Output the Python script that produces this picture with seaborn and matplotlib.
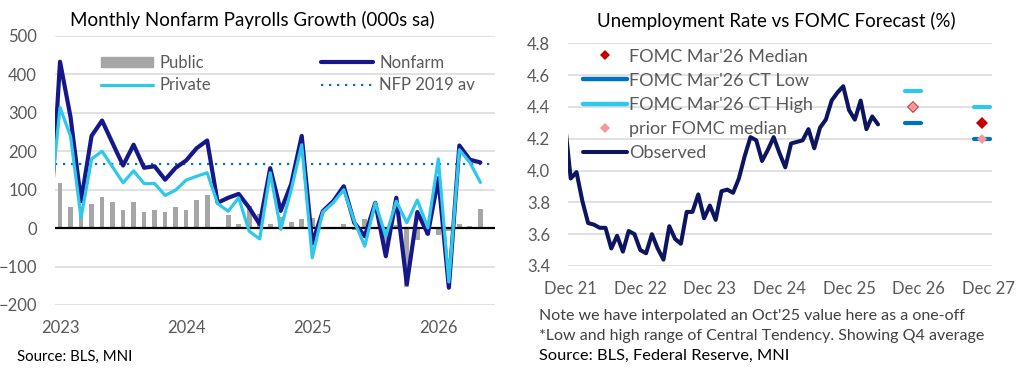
import numpy as np
import pandas as pd
import matplotlib
matplotlib.use('Agg')
import matplotlib.pyplot as plt
from matplotlib.lines import Line2D
from matplotlib.patches import Patch
from matplotlib.markers import MarkerStyle
import seaborn as sns

# --- LEFT: monthly payrolls change (000s), Dec 2022 .. May 2026 ---
# month index: Jan 2023 = 0 (Dec 2022 sits just off the left edge)
pay_month = list(range(-1, 41))
nonfarm = [-15,
           433, 289, 70, 240, 280, 221, 163, 217, 157, 161, 126, 157,
           176, 208, 228, 66, 79, 89, 53, 10, 156, 45, 115, 240,
           -40, 44, 70, 109, 14, -21, 66, -73, 79, -146, 42, -15,
           130, -155, 215, 178, 171]
private = [45,
           314, 239, 27, 180, 200, 159, 118, 149, 116, 116, 85, 99,
           125, 135, 144, 64, 44, 79, -8, -28, 144, -3, 100, 217,
           -77, 42, 66, 100, 18, -47, 66, -21, 70, 14, 73, 1,
           180, -140, 204, 171, 119]
public = [np.nan,
          118, 54, 40, 62, 80, 69, 46, 69, 42, 46, 43, 55,
          48, 72, 85, 0, 33, 10, 58, 38, 12, 30, 16, 25,
          27, 2, 4, 10, -4, 25, 0, -50, 8, -152, -30, -18,
          -19, -8, 12, 5, 51]
nfp_2019_avg = 167
pay_ticks = [0, 12, 24, 36]
pay_ticklabels = ['2023', '2024', '2025', '2026']

# --- RIGHT: unemployment rate (%), Nov 2021 .. May 2026 ---
# month index: Dec 2021 = 0
ur_month = list(range(-1, 54))
unemployment = [4.30, 3.95,
                3.99, 3.81, 3.67, 3.66, 3.64, 3.64, 3.51, 3.59, 3.49, 3.62, 3.60, 3.50,
                3.48, 3.60, 3.51, 3.44, 3.65, 3.57, 3.54, 3.74, 3.74, 3.85, 3.70, 3.78,
                3.69, 3.87, 3.88, 3.86, 3.95, 4.09, 4.21, 4.19, 4.06, 4.13, 4.21, 4.11,
                4.02, 4.17, 4.18, 4.19, 4.26, 4.14, 4.27, 4.32, 4.44, 4.49, 4.53, 4.38,
                4.32, 4.44, 4.26, 4.34, 4.29]
# FOMC projections, Q4 average plotted at Nov 2026 / Nov 2027
fomc_month = [59, 71]
fomc_median = [4.4, 4.3]
fomc_ct_low = [4.3, 4.2]
fomc_ct_high = [4.5, 4.4]
prior_median = [4.4, 4.2]
ur_ticks = [0, 12, 24, 36, 48, 60, 72]
ur_ticklabels = ['Dec 21', 'Dec 22', 'Dec 23', 'Dec 24', 'Dec 25', 'Dec 26', 'Dec 27']

# colours
NAVY = '#15178a'
OBS = '#0d1560'
CYAN = '#2ec8ea'
GREY_BAR = '#a6a6a6'
MID_BLUE = '#0070c0'
RED = '#c00000'
PINK = '#f4989c'
TXT = '#595959'
GRID = '#d9d9d9'

sns.set_theme(style='white')
plt.rcParams['font.family'] = ['Lato', 'DejaVu Sans']

pay = pd.DataFrame({'m': pay_month, 'nonfarm': nonfarm, 'private': private, 'public': public})
ur = pd.DataFrame({'m': ur_month, 'rate': unemployment})
fc = pd.DataFrame({'m': fomc_month, 'median': fomc_median, 'low': fomc_ct_low,
                   'high': fomc_ct_high, 'prior': prior_median})

fig = plt.figure(figsize=(10.21, 3.74), dpi=100)
fig.patch.set_facecolor('white')

# ================= left panel =================
ax1 = fig.add_axes([0.0539, 0.1845, 0.4310, 0.7193])
sns.barplot(data=pay.dropna(), x='m', y='public', native_scale=True, width=0.45,
            color=GREY_BAR, saturation=1, errorbar=None, linewidth=0, ax=ax1, zorder=2)
ax1.axhline(nfp_2019_avg, color=MID_BLUE, lw=1.6, ls=(0, (1, 2.6)), zorder=3)
ax1.axhline(0, color='black', lw=1.6, zorder=3)
sns.lineplot(data=pay, x='m', y='nonfarm', color=NAVY, lw=3.0, ax=ax1, zorder=4)
sns.lineplot(data=pay, x='m', y='private', color=CYAN, lw=2.3, ax=ax1, zorder=5)

ax1.set_xlim(-0.476, 41.4)
ax1.set_ylim(-200, 500)
ax1.set_yticks(range(-200, 501, 100))
ax1.set_xticks(pay_ticks)
ax1.set_xticklabels(pay_ticklabels)

left_handles = [Patch(color=GREY_BAR),
                Line2D([], [], color=CYAN, lw=2.3),
                Line2D([], [], color=NAVY, lw=3.0),
                Line2D([], [], color=MID_BLUE, lw=1.6, ls=(0, (1, 2.6)))]
left_labels = ['Public', 'Private', 'Nonfarm', 'NFP 2019 av']
ax1.legend(left_handles, left_labels, ncol=2, loc='upper left',
           bbox_to_anchor=(0.1045, 0.930), frameon=False, fontsize=12,
           labelcolor=TXT, handlelength=3.1, handleheight=0.5, handletextpad=0.4,
           columnspacing=6.6, labelspacing=0.4, borderpad=0, borderaxespad=0)

# ================= right panel =================
ax2 = fig.add_axes([0.5563, 0.2888, 0.4150, 0.5955])
sns.lineplot(data=ur, x='m', y='rate', color=OBS, lw=2.9, ax=ax2, zorder=3)
dash = MarkerStyle('_', capstyle='round')
ax2.plot(fc['m'], fc['low'], ls='', marker=dash, ms=12, mew=3.0, color=MID_BLUE, zorder=4)
ax2.plot(fc['m'], fc['high'], ls='', marker=dash, ms=12, mew=3.0, color=CYAN, zorder=4)
ax2.plot(fc['m'], fc['median'], ls='', marker='D', ms=6.6, mew=0, color=RED, zorder=5)
ax2.plot(fc['m'], fc['prior'], ls='', marker='D', ms=4.6, mew=0, color=PINK, zorder=6)

ax2.set_xlim(-0.47, 72.6)
ax2.set_ylim(3.4, 4.8)
ax2.set_yticks(np.arange(3.4, 4.81, 0.2))
ax2.set_yticklabels([f'{v:.1f}' for v in np.arange(3.4, 4.81, 0.2)])
ax2.set_xticks(ur_ticks)
ax2.set_xticklabels(ur_ticklabels)

right_handles = [Line2D([], [], ls='', marker='D', ms=5.2, mew=0, color=RED),
                 Line2D([], [], color=MID_BLUE, lw=3.2, solid_capstyle='round'),
                 Line2D([], [], color=CYAN, lw=3.2, solid_capstyle='round'),
                 Line2D([], [], ls='', marker='D', ms=4.6, mew=0, color=PINK),
                 Line2D([], [], color=OBS, lw=2.9, solid_capstyle='round')]
right_labels = ["FOMC Mar'26 Median", "FOMC Mar'26 CT Low", "FOMC Mar'26 CT High",
                'prior FOMC median', 'Observed']
ax2.legend(right_handles, right_labels, loc='upper left', bbox_to_anchor=(0.0361, 0.976),
           frameon=False, fontsize=13, labelcolor=TXT, handlelength=2.4,
           handletextpad=0.15, labelspacing=0.45, borderpad=0, borderaxespad=0)

for ax in (ax1, ax2):
    ax.set_xlabel('')
    ax.set_ylabel('')
    for s in ax.spines.values():
        s.set_visible(False)
    ax.grid(axis='y', color=GRID, lw=1.1, zorder=0)
    ax.set_axisbelow(True)
    ax.tick_params(axis='both', length=0, labelsize=12, labelcolor=TXT)
    ax.tick_params(axis='y', pad=13)
    ax.tick_params(axis='x', pad=11)
    ax.set_facecolor('white')

# titles and notes
fig.text(0.2468, 0.9465, 'Monthly Nonfarm Payrolls Growth (000s sa)', ha='center', va='center',
         fontsize=13.5, color='black')
fig.text(0.7607, 0.9447, 'Unemployment Rate vs FOMC Forecast (%)', ha='center', va='center',
         fontsize=13.5, color='black')
fig.text(0.0167, 0.0455, 'Source: BLS, MNI', ha='left', va='center', fontsize=10.8, color='black')
fig.text(0.5282, 0.1559, "Note we have interpolated an Oct'25 value here as a one-off",
         ha='left', va='center', fontsize=11.5, color='#404040')
fig.text(0.5282, 0.1016, '*Low and high range of Central Tendency. Showing Q4 average',
         ha='left', va='center', fontsize=11.5, color='#404040')
fig.text(0.5282, 0.0481, 'Source: BLS, Federal Reserve, MNI', ha='left', va='center',
         fontsize=11.8, color='black')

fig.savefig('out.png', dpi=100, facecolor='white')
